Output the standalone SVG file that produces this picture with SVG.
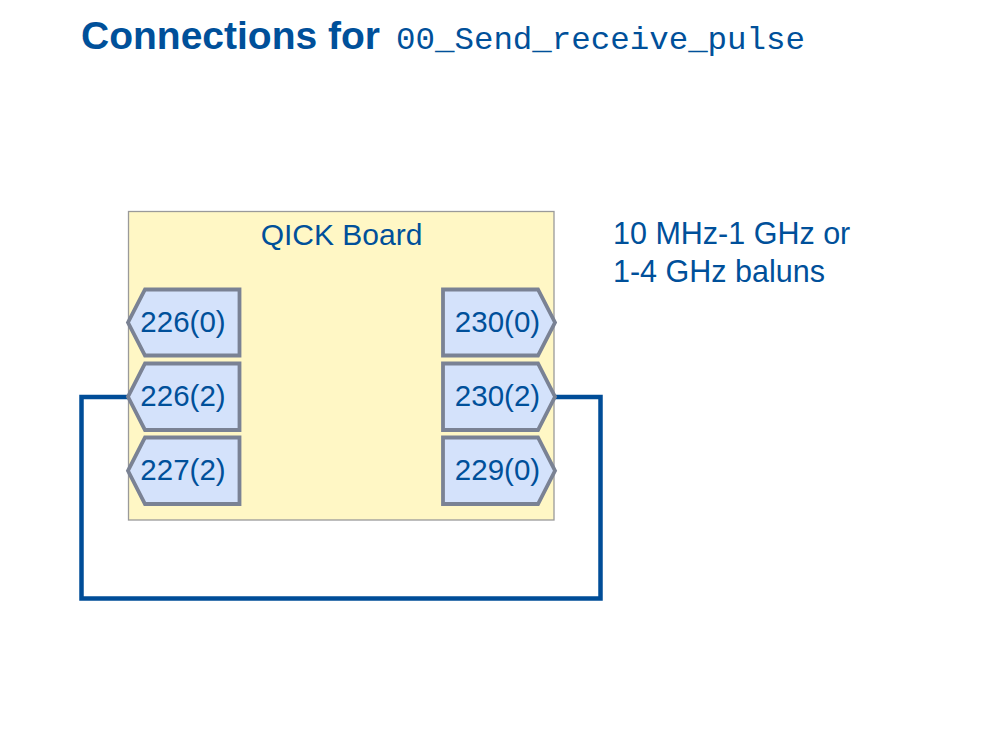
<svg xmlns="http://www.w3.org/2000/svg" width="1007" height="755" viewBox="0 0 1007 755">
<style>
.t{fill:#00509a;font-family:"Liberation Sans",Arial,sans-serif}
.port{fill:#d4e2fb;stroke:#7a8294;stroke-width:3.8;stroke-linejoin:miter}
.lbl{font-size:29.5px;text-anchor:middle}
.wire{fill:none;stroke:#004d98;stroke-width:4.5;stroke-linejoin:miter}
</style>
<rect width="1007" height="755" fill="#ffffff"/>
<g id="title">
<text class="t" x="81" y="49" font-size="38" font-weight="bold" textLength="299" lengthAdjust="spacingAndGlyphs">Connections for</text>
<text x="396" y="49" font-family="'Liberation Mono','DejaVu Sans Mono',monospace" font-size="32" fill="#00509a" textLength="409" lengthAdjust="spacingAndGlyphs">00_Send_receive_pulse</text>
</g>
<g id="board">
<rect x="128.5" y="211.5" width="425.5" height="308.5" fill="#fff7c5" stroke="#9a9a9a" stroke-width="1.3"/>
<text class="t" x="341.5" y="245" font-size="30" text-anchor="middle">QICK Board</text>
</g>
<g id="note">
<text class="t" x="613" y="244" font-size="30.5">10 MHz-1 GHz or</text>
<text class="t" x="613" y="282" font-size="30.5">1-4 GHz baluns</text>
</g>
<g id="connectors">
<polyline class="wire" points="555,397 600.5,397 600.5,598.5 81.5,598.5 81.5,397 128,397"/>
</g>
<g id="port-226-0">
<polygon class="port" points="145,289.5 239.5,289.5 239.5,355.5 145,355.5 128,322.5"/>
<text class="t lbl" x="183" y="331.5">226(0)</text>
</g>
<g id="port-226-2">
<polygon class="port" points="145,363.5 239.5,363.5 239.5,430 145,430 128,396.75"/>
<text class="t lbl" x="183" y="405.5">226(2)</text>
</g>
<g id="port-227-2">
<polygon class="port" points="145,437.5 239.5,437.5 239.5,504 145,504 128,470.75"/>
<text class="t lbl" x="183" y="479.5">227(2)</text>
</g>
<g id="port-230-0">
<polygon class="port" points="443,289.5 538,289.5 555,322.5 538,355.5 443,355.5"/>
<text class="t lbl" x="497.5" y="331.5">230(0)</text>
</g>
<g id="port-230-2">
<polygon class="port" points="443,363.5 538,363.5 555,396.75 538,430 443,430"/>
<text class="t lbl" x="497.5" y="405.5">230(2)</text>
</g>
<g id="port-229-0">
<polygon class="port" points="443,437.5 538,437.5 555,470.75 538,504 443,504"/>
<text class="t lbl" x="497.5" y="479.5">229(0)</text>
</g>
</svg>
